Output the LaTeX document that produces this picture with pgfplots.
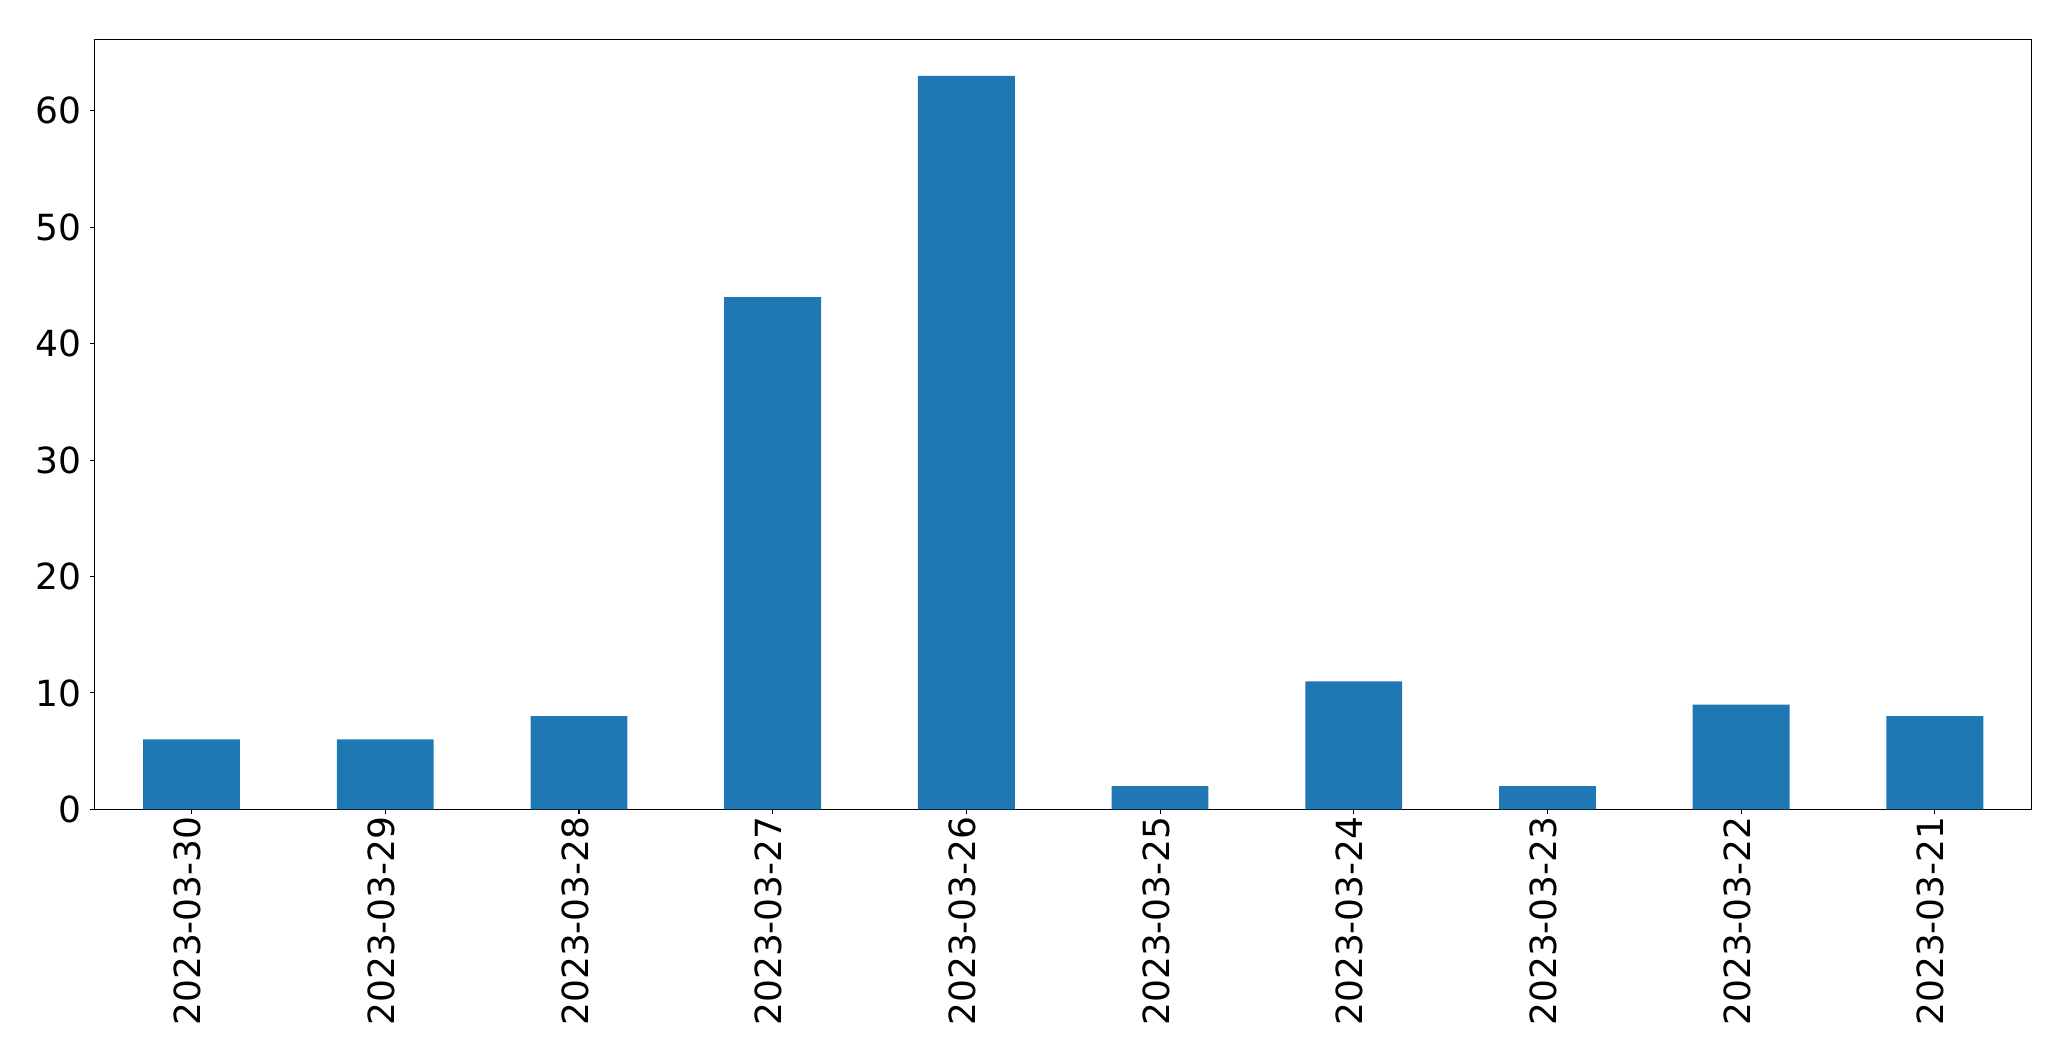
\documentclass[border=0pt]{standalone}
\usepackage{pgfplots}
\pgfplotsset{compat=1.18}
\usepackage{fontspec}
\setmainfont{DejaVu Sans}
\definecolor{mplblue}{HTML}{1F77B4}
\begin{document}
\begin{tikzpicture}
\begin{axis}[
  scale only axis,
  width=1937bp, height=770bp,
  xmin=-0.5, xmax=9.5, ymin=0, ymax=66.15,
  xtick={0,1,2,3,4,5,6,7,8,9},
  xticklabels={2023-03-30,2023-03-29,2023-03-28,2023-03-27,2023-03-26,2023-03-25,2023-03-24,2023-03-23,2023-03-22,2023-03-21},
  ytick={0,10,20,30,40,50,60},
  tick pos=left, tick align=outside,
  major tick length=4.9bp,
  axis line style={line width=1.1bp},
  every tick/.style={line width=1.1bp, black},
  /pgf/number format/assume math mode=true,
  ticklabel style={font=\fontsize{36bp}{42bp}\selectfont},
  xticklabel style={rotate=90, anchor=east, inner sep=0pt, xshift=-2bp, yshift=4bp},
  yticklabel style={inner sep=0pt, xshift=-8bp},
]
\addplot[ybar, bar width=0.5, fill=mplblue, draw=none] coordinates {
(0,6) (1,6) (2,8) (3,44) (4,63) (5,2) (6,11) (7,2) (8,9) (9,8)
};
\coordinate (sw) at (rel axis cs:0,0);
\coordinate (ne) at (rel axis cs:1,1);
\end{axis}
\pgfresetboundingbox
\useasboundingbox ([xshift=-94.7bp,yshift=-251.7bp]sw) rectangle ([xshift=39.3bp,yshift=39.3bp]ne);
\end{tikzpicture}
\end{document}
